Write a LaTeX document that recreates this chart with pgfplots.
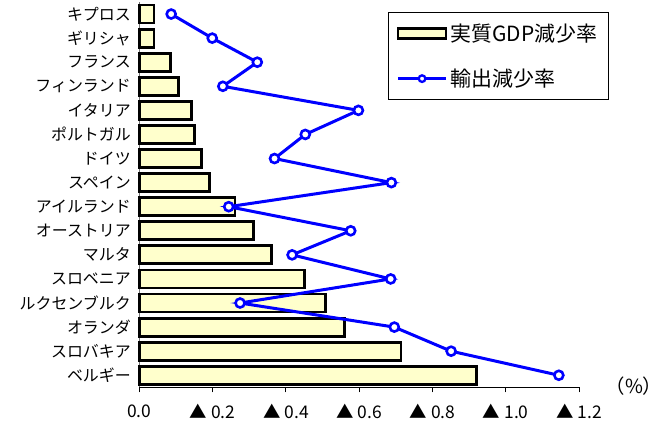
\documentclass[border=0pt]{standalone}
\usepackage{fontspec}
\setmainfont{Noto Sans CJK JP}
\usepackage{pgfplots}
\pgfplotsset{compat=1.18}
\definecolor{barfill}{RGB}{255,255,204}
\definecolor{linblue}{RGB}{0,0,255}
\newcommand\tri{▲\hspace{4bp}}

\begin{document}
\begin{tikzpicture}
\begin{axis}[
    at={(139.3bp,35.7bp)}, anchor=south west,
    scale only axis, width=439.7bp, height=385.3bp,
    xmin=0, xmax=1.2, ymin=-0.5, ymax=15.5, y dir=reverse,
    clip=false,
    axis x line*=bottom, axis y line*=left,
    axis line style={-, line width=0.8bp},
    y axis line style={black!55, line width=1.2bp},
    xtick={0,0.2,0.4,0.6,0.8,1.0,1.2},
    xticklabels={0.0,\tri 0.2,\tri 0.4,\tri 0.6,\tri 0.8,\tri 1.0,\tri 1.2},
    tick align=outside, major tick length=5bp,
    xtick style={black, line width=0.8bp},
    xticklabel style={inner sep=0pt, yshift=-12bp, font=\fontsize{17.5}{19}\selectfont},
    ytick={0,...,15},
    yticklabels={キプロス,ギリシャ,フランス,フィンランド,イタリア,ポルトガル,ドイツ,スペイン,アイルランド,オーストリア,マルタ,スロベニア,ルクセンブルク,オランダ,スロバキア,ベルギー},
    ytick style={draw=none},
    minor ytick={-0.5,0.5,...,15.5},
    minor tick length=5bp,
    minor y tick style={black!60, line width=0.8bp, xshift=5bp},
    yticklabel style={font=\fontsize{16}{18}\selectfont},
    legend style={at={(0.566,0.974)}, anchor=north west, draw=black, line width=1bp,
        font=\fontsize{21}{24}\selectfont, inner xsep=8bp, inner ysep=4.5bp,
        row sep=12bp, nodes={inner xsep=3bp, inner ysep=7bp}},
    legend cell align=left,
]
\addplot[xbar, bar width=18bp, fill=barfill, draw=black, line width=2.8bp,
    legend image code/.code={\draw[fill=barfill,draw=black,line width=2.8bp] (0bp,-5bp) rectangle (48bp,5bp);}]
coordinates {
(0.040,0) (0.040,1) (0.086,2) (0.106,3) (0.143,4) (0.150,5) (0.170,6) (0.191,7)
(0.261,8) (0.311,9) (0.360,10) (0.451,11) (0.508,12) (0.561,13) (0.714,14) (0.921,15)
};
\addlegendentry{実質GDP減少率}
\addplot[linblue, line width=3bp, mark=*, mark size=4.5bp,
    mark options={fill=white, draw=linblue, line width=2.6bp},
    legend image code/.code={\draw[linblue, line width=2.6bp] (0bp,0bp) -- (48bp,0bp);
        \draw[linblue, fill=white, line width=2.3bp] (24bp,0bp) circle (3.3bp);}]
coordinates {
(0.087,0) (0.199,1) (0.322,2) (0.228,3) (0.598,4) (0.453,5) (0.369,6) (0.688,7)
(0.244,8) (0.577,9) (0.417,10) (0.686,11) (0.275,12) (0.696,13) (0.851,14) (1.145,15)
};
\addlegendentry{輸出減少率}
\node[font=\fontsize{19.5}{21}\selectfont] at (axis description cs:1.125,0.004) {（\%）};
\end{axis}
\pgfresetboundingbox
\useasboundingbox (0,0) rectangle (665bp,423bp);
\end{tikzpicture}
\end{document}
